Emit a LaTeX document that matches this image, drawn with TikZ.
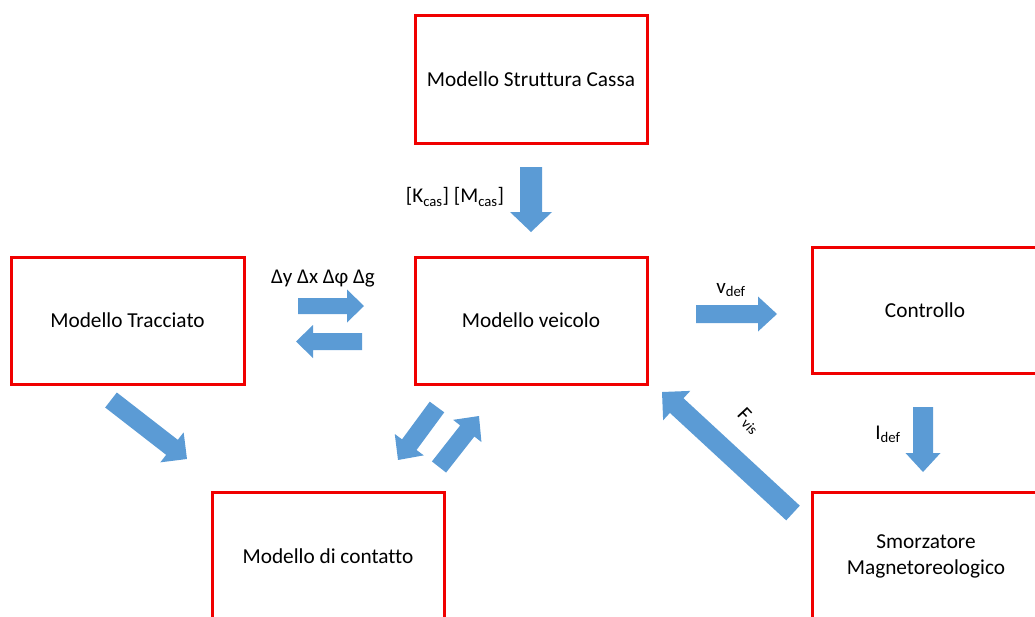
\documentclass[tikz,border=0pt]{standalone}
\usepackage{fontspec}
\setmainfont{Carlito}[Ligatures=NoCommon]
\usetikzlibrary{calc}
\definecolor{boxred}{RGB}{240,0,0}
\definecolor{arrowblue}{RGB}{91,155,213}
\tikzset{
  modbox/.style={draw=boxred, line width=3pt, inner sep=0pt, align=center, font=\fontsize{21.3}{26}\selectfont},
  lbl/.style={inner sep=0pt, font=\fontsize{21}{25}\selectfont}
}
% block arrow from #1 (tail centre) to #2 (tip): shaft half-width #3, head half-width #4, head length #5
\newcommand\blockarrow[5]{%
  \fill[arrowblue] let \p1=($(#2)-(#1)$), \n1={atan2(\y1,\x1)}, \n2={veclen(\x1,\y1)} in
    [shift={(#1)}, rotate=\n1]
    (0pt,-#3) -- ({\n2*1pt-#5},-#3) -- ({\n2*1pt-#5},-#4) -- ({\n2*1pt},0pt)
    -- ({\n2*1pt-#5},#4) -- ({\n2*1pt-#5},#3) -- (0pt,#3) -- cycle;}
\begin{document}
\begin{tikzpicture}[x=1pt,y=-1pt]
\useasboundingbox (0,0) rectangle (1035,616);
\clip (0,0) rectangle (1035,616);
% boxes
\node[modbox, minimum width=232pt, minimum height=128pt] (cassa) at (531,79) {Modello Struttura Cassa};
\node[modbox, minimum width=233pt, minimum height=127pt] (tracc) at (127.5,320.5) {Modello Tracciato};
\node[modbox, minimum width=232pt, minimum height=127pt] (veic) at (531,320.5) {Modello veicolo};
\node[modbox, minimum width=226pt, minimum height=126pt] (contr) at (925,310) {Controllo};
\node[modbox, minimum width=232pt, minimum height=128pt] (cont) at (328,556) {Modello di contatto};
\node[modbox, minimum width=228pt, minimum height=128pt] (smorz) at (926,556) {Smorzatore\\Magnetoreologico};
% arrow end points
\coordinate (a1s) at (531,167);   \coordinate (a1e) at (531,232);
\coordinate (a2s) at (298,306);   \coordinate (a2e) at (364,306);
\coordinate (a3s) at (362,341.5); \coordinate (a3e) at (296,341.5);
\coordinate (a4s) at (696,314);   \coordinate (a4e) at (777,314);
\coordinate (a5s) at (923,407);   \coordinate (a5e) at (923,472);
\coordinate (a6s) at (793,513);   \coordinate (a6e) at (662,392);
\coordinate (a7s) at (111,400);   \coordinate (a7e) at (187,459);
\coordinate (a8s) at (437,407);   \coordinate (a8e) at (398,460);
\coordinate (a9s) at (439,467);   \coordinate (a9e) at (479,416);
% arrows
\blockarrow{a1s}{a1e}{11pt}{21pt}{20pt}
\blockarrow{a2s}{a2e}{8pt}{16.5pt}{17pt}
\blockarrow{a3s}{a3e}{8.5pt}{16.5pt}{17pt}
\blockarrow{a4s}{a4e}{9pt}{17.5pt}{19pt}
\blockarrow{a5s}{a5e}{10pt}{17.5pt}{19pt}
\blockarrow{a6s}{a6e}{10pt}{20pt}{20pt}
\blockarrow{a7s}{a7e}{9.5pt}{19pt}{19pt}
\blockarrow{a8s}{a8e}{9pt}{18pt}{19pt}
\blockarrow{a9s}{a9e}{9pt}{18pt}{19pt}
% labels
\node[lbl] (lk) at (455,197) {[K\textsubscript{cas}] [M\textsubscript{cas}]};
\node[lbl] (ld) at (323,279) {Δy Δx Δφ Δg};
\node[lbl] (lv) at (731,290) {v\textsubscript{def}};
\node[lbl] (li) at (888,434) {I\textsubscript{def}};
\node[lbl, rotate=-47] (lf) at (749,421) {F\textsubscript{vis}};
\end{tikzpicture}
\end{document}
